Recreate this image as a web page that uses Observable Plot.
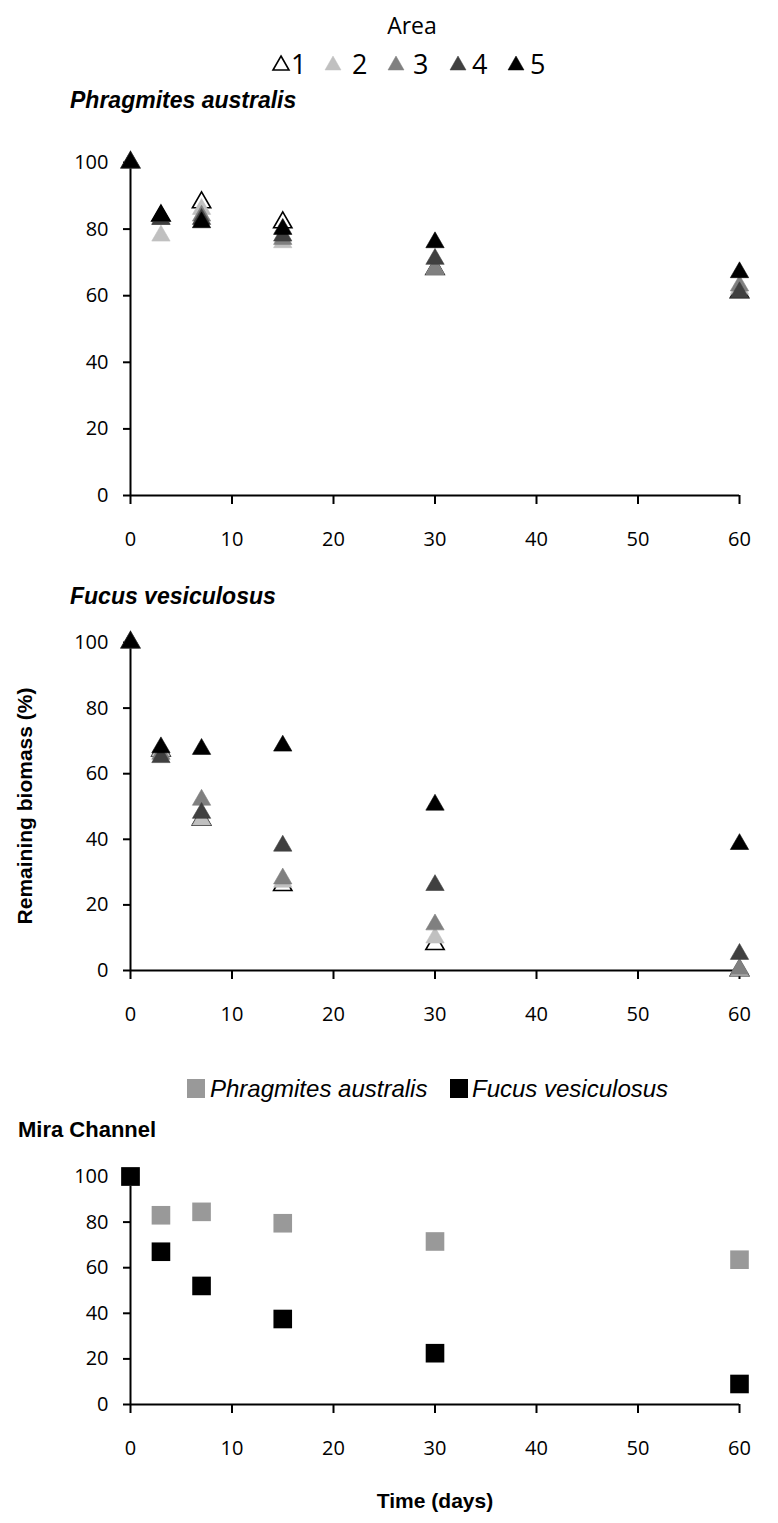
<!DOCTYPE html>
<html><head><meta charset="utf-8">
<script src="https://cdn.jsdelivr.net/npm/d3@7"></script>
<script src="https://cdn.jsdelivr.net/npm/@observablehq/plot@0.6"></script>
<style>
body{margin:0;background:#fff;}
#root{position:relative;width:778px;height:1523px;overflow:hidden;font-family:"Open Sans",sans-serif;color:#000;background:#fff;}
#root svg{overflow:visible;}
.t{position:absolute;white-space:nowrap;line-height:1;}
</style></head><body><div id="root"></div>
<script>
// ---------- data ----------
const days = [0, 3, 7, 15, 30, 60];
const areas = ["1", "2", "3", "4", "5"];
const areaFill = ["#ffffff", "#c0c0c0", "#808080", "#404040", "#000000"];
const areaStroke = ["#000000", "#c0c0c0", "#808080", "#404040", "#000000"];

// Phragmites australis, remaining biomass (%) per area
const phragArea1 = [100, 84, 88, 82, 68, 61];
const phragArea2 = [100, 78, 86, 76, 68, 62];
const phragArea3 = [100, 83, 84, 77, 68, 63];
const phragArea4 = [100, 83, 83, 78, 71, 61];
const phragArea5 = [100, 84, 82, 80, 76, 67];

// Fucus vesiculosus, remaining biomass (%) per area
const fucusArea1 = [100, 67, 46, 26, 8, 0];
const fucusArea2 = [100, 67, 46, 27, 10, 0];
const fucusArea3 = [100, 66, 52, 28, 14, 0.5];
const fucusArea4 = [100, 65, 48, 38, 26, 5];
const fucusArea5 = [100, 68, 67.5, 68.5, 50.5, 38.5];

// Mira Channel
const speciesNames = ["Phragmites australis", "Fucus vesiculosus"];
const speciesColors = ["#999999", "#000000"];
const miraPhragmites = [100, 83, 84.5, 79.5, 71.5, 63.5];
const miraFucus = [100, 67, 52, 37.5, 22.5, 9];

const xTicks = [0, 10, 20, 30, 40, 50, 60];
const yTicks = [0, 20, 40, 60, 80, 100];

// ---------- helpers ----------
const root = document.getElementById("root");
const ARIAL = '"Liberation Sans", Arial, sans-serif';
function txt(str, left, top, opts = {}) {
  const d = document.createElement("div");
  d.className = "t";
  d.textContent = str;
  d.style.left = left + "px";
  d.style.top = top + "px";
  d.style.fontSize = (opts.size || 18) + "px";
  d.style.fontFamily = opts.font || '"Open Sans", sans-serif';
  d.style.fontWeight = opts.weight || "normal";
  d.style.fontStyle = opts.style || "normal";
  d.style.color = opts.color || "#000";
  let tr = "translateY(-50%)";
  if (opts.center) tr = "translate(-50%,-50%)";
  if (opts.rotate) tr = "translate(-50%,-50%) rotate(-90deg)";
  d.style.transform = tr;
  root.appendChild(d);
  return d;
}
const rowsOf = (series) => series.flatMap((vals, i) => vals.map((v, j) => ({area: areas[i], day: days[j], value: v})));

const MT = 30, MB = 80;
function panel(y100, y0, dotMarks) {
  const h = MT + (y0 - y100) + MB;
  const svg = Plot.plot({
    width: 778, height: h,
    marginLeft: 130, marginRight: 39, marginTop: MT, marginBottom: MB,
    x: {domain: [0, 60]},
    y: {domain: [0, 100]},
    style: {fontFamily: '"Open Sans", sans-serif', fontSize: "20px", color: "#000", background: "transparent"},
    marks: [
      Plot.axisX({ticks: xTicks, tickSize: 9, tickPadding: 27, strokeWidth: 2, fontSize: 20, fill: "#000", label: null, tickFormat: d => String(d)}),
      Plot.axisY({ticks: yTicks, tickSize: 7, tickPadding: 15, strokeWidth: 2, fontSize: 20, fill: "#000", label: null, tickFormat: d => String(d)}),
      Plot.ruleX([0], {stroke: "#000", strokeWidth: 2}),
      Plot.ruleY([0], {stroke: "#000", strokeWidth: 2}),
      ...dotMarks
    ]
  });
  svg.style.position = "absolute";
  svg.style.left = "0px";
  svg.style.top = (y100 - MT) + "px";
  root.appendChild(svg);
}

function triangleDots(series) {
  const rows = rowsOf(series);
  return areas.map((a, i) => Plot.dot(rows.filter(d => d.area === a), {
    x: "day", y: "value", symbol: "triangle", r: 6.8,
    fill: areaFill[i], stroke: areaStroke[i], strokeWidth: i === 0 ? 1.6 : 0.6
  }));
}

// ---------- top legend ----------
txt("Area", 412, 25, {size: 23, center: true});
const triLeft = [272, 324, 387, 449, 507];
const digLeft = [291, 352, 413, 472, 530];
areas.forEach((a, i) => {
  const s = document.createElementNS("http://www.w3.org/2000/svg", "svg");
  s.setAttribute("width", 18); s.setAttribute("height", 16);
  s.style.position = "absolute"; s.style.left = triLeft[i] + "px"; s.style.top = "55px";
  const p = document.createElementNS("http://www.w3.org/2000/svg", "path");
  p.setAttribute("d", "M9,1 L17,15 L1,15 Z");
  p.setAttribute("fill", areaFill[i]); p.setAttribute("stroke", areaStroke[i]);
  p.setAttribute("stroke-width", i === 0 ? 1.6 : 0.5);
  s.appendChild(p); root.appendChild(s);
  txt(a, digLeft[i], 63, {size: 27});
});

// ---------- panel 1 ----------
txt("Phragmites australis", 70, 100, {size: 23, weight: "bold", style: "italic", font: ARIAL});
panel(162, 495, triangleDots([phragArea1, phragArea2, phragArea3, phragArea4, phragArea5]));

// ---------- panel 2 ----------
txt("Fucus vesiculosus", 70, 596, {size: 23, weight: "bold", style: "italic", font: ARIAL});
panel(642, 970, triangleDots([fucusArea1, fucusArea2, fucusArea3, fucusArea4, fucusArea5]));
txt("Remaining biomass (%)", 24, 806, {size: 21, weight: "bold", rotate: true, font: ARIAL});

// ---------- species legend ----------
const sqLeft = [187, 450];
const labLeft = [210, 472];
speciesNames.forEach((n, i) => {
  const b = document.createElement("div");
  b.style.cssText = `position:absolute;left:${sqLeft[i]}px;top:${1088 - 9}px;width:18px;height:19px;background:${speciesColors[i]};`;
  root.appendChild(b);
  txt(n, labLeft[i], 1089, {size: 24, style: "italic", font: ARIAL});
});

// ---------- panel 3 ----------
txt("Mira Channel", 18, 1130, {size: 22, weight: "bold", font: ARIAL});
const miraRows = [miraPhragmites, miraFucus].flatMap((vals, i) => vals.map((v, j) => ({species: speciesNames[i], day: days[j], value: v})));
panel(1176, 1404, speciesNames.map((n, i) => Plot.dot(miraRows.filter(d => d.species === n), {
  x: "day", y: "value", symbol: "square", r: 10.5, fill: speciesColors[i], stroke: "none"
})));
txt("Time (days)", 435, 1500, {size: 21, weight: "bold", center: true, font: ARIAL});
</script>
</body></html>
